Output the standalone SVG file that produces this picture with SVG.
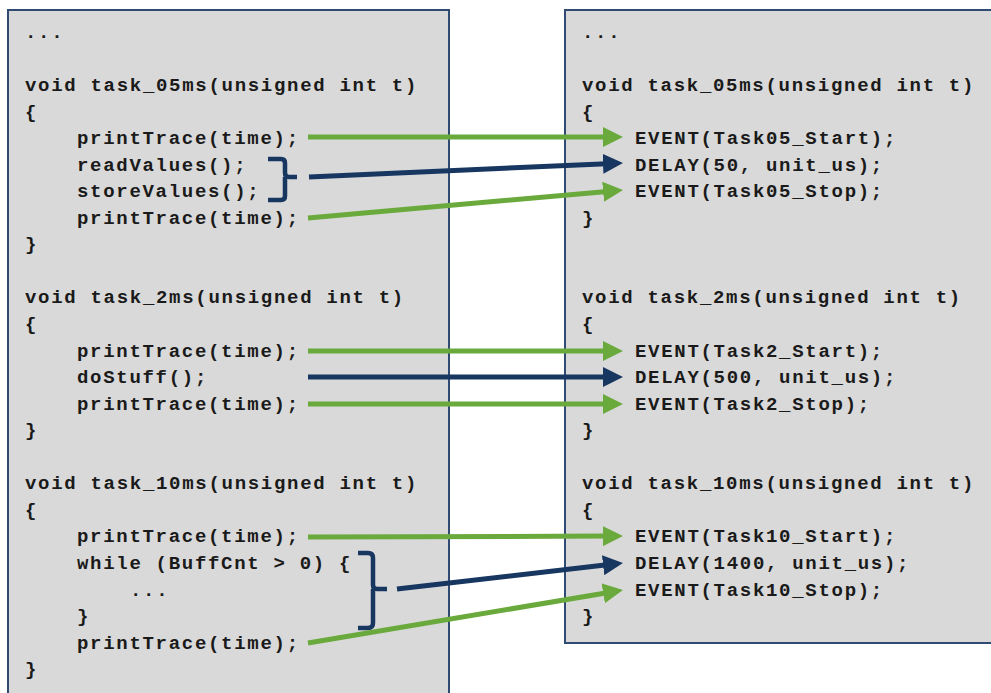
<svg xmlns="http://www.w3.org/2000/svg" width="991" height="693" viewBox="0 0 991 693">
<style>
.box{fill:#d9d9d9;stroke:#2f4b73;stroke-width:2}
.code{font-family:"Liberation Mono","Courier New",monospace;font-weight:bold;font-size:19px;letter-spacing:1.7px;fill:#1a1a1a}
.g{stroke:#6aaa3c;stroke-width:5;fill:none}
.b{stroke:#173660;stroke-width:5;fill:none}
.br{stroke:#173660;stroke-width:4.5;fill:none;stroke-linejoin:round}
</style>
<defs>
<marker id="ag" viewBox="0 0 10 10" refX="2" refY="5" markerWidth="4" markerHeight="4" orient="auto"><path d="M0,0 L10,5 L0,10 z" fill="#6aaa3c"/></marker>
<marker id="ab" viewBox="0 0 10 10" refX="2" refY="5" markerWidth="4" markerHeight="4" orient="auto"><path d="M0,0 L10,5 L0,10 z" fill="#173660"/></marker>
</defs>
<g id="left-code">
<rect class="box" x="8" y="10" width="441" height="700"/>
<text class="code" x="25" y="38">...</text>
<text class="code" x="25" y="91">void task_05ms(unsigned int t)</text>
<text class="code" x="25" y="117.6">{</text>
<text class="code" x="77" y="144.1">printTrace(time);</text>
<text class="code" x="77" y="170.7">readValues();</text>
<text class="code" x="77" y="197.2">storeValues();</text>
<text class="code" x="77" y="223.8">printTrace(time);</text>
<text class="code" x="25" y="250.3">}</text>
<text class="code" x="25" y="303.4">void task_2ms(unsigned int t)</text>
<text class="code" x="25" y="330">{</text>
<text class="code" x="77" y="356.5">printTrace(time);</text>
<text class="code" x="77" y="383.1">doStuff();</text>
<text class="code" x="77" y="409.6">printTrace(time);</text>
<text class="code" x="25" y="436.2">}</text>
<text class="code" x="25" y="489.3">void task_10ms(unsigned int t)</text>
<text class="code" x="25" y="515.9">{</text>
<text class="code" x="77" y="542.4">printTrace(time);</text>
<text class="code" x="77" y="569">while (BuffCnt &gt; 0) {</text>
<text class="code" x="130" y="595.5">...</text>
<text class="code" x="77" y="622.1">}</text>
<text class="code" x="77" y="648.6">printTrace(time);</text>
<text class="code" x="25" y="675.2">}</text>
</g>
<g id="right-code">
<rect class="box" x="565" y="10" width="440" height="633"/>
<text class="code" x="582" y="38">...</text>
<text class="code" x="582" y="91">void task_05ms(unsigned int t)</text>
<text class="code" x="582" y="117.6">{</text>
<text class="code" x="635" y="144.1">EVENT(Task05_Start);</text>
<text class="code" x="635" y="170.7">DELAY(50, unit_us);</text>
<text class="code" x="635" y="197.2">EVENT(Task05_Stop);</text>
<text class="code" x="582" y="223.8">}</text>
<text class="code" x="582" y="303.4">void task_2ms(unsigned int t)</text>
<text class="code" x="582" y="330">{</text>
<text class="code" x="635" y="356.5">EVENT(Task2_Start);</text>
<text class="code" x="635" y="383.1">DELAY(500, unit_us);</text>
<text class="code" x="635" y="409.6">EVENT(Task2_Stop);</text>
<text class="code" x="582" y="436.2">}</text>
<text class="code" x="582" y="489.3">void task_10ms(unsigned int t)</text>
<text class="code" x="582" y="515.9">{</text>
<text class="code" x="635" y="542.4">EVENT(Task10_Start);</text>
<text class="code" x="635" y="569">DELAY(1400, unit_us);</text>
<text class="code" x="635" y="595.5">EVENT(Task10_Stop);</text>
<text class="code" x="582" y="622.1">}</text>
</g>
<g id="brace-1">
<path class="br" d="M268,159 H281 Q285,159 285,163 V173 Q285,177 289,177 H297 M285,177 Q285,177 285,181 V196 Q285,200 281,200 H268"/>
</g>
<g id="brace-2">
<path class="br" d="M358,553 H368 Q373,553 373,558 V585 Q373,589 377,589 H387 M373,589 V623 Q373,628 368,628 H358"/>
</g>
<g id="connectors">
<line class="g" x1="308" y1="137" x2="607" y2="137" marker-end="url(#ag)"/>
<line class="b" x1="309" y1="177" x2="607" y2="163.7" marker-end="url(#ab)"/>
<line class="g" x1="308" y1="218" x2="607.1" y2="191.4" marker-end="url(#ag)"/>
<line class="g" x1="308" y1="351" x2="607" y2="351" marker-end="url(#ag)"/>
<line class="b" x1="308" y1="377" x2="607" y2="377" marker-end="url(#ab)"/>
<line class="g" x1="308" y1="404" x2="607" y2="404" marker-end="url(#ag)"/>
<line class="g" x1="308" y1="537" x2="607" y2="536.1" marker-end="url(#ag)"/>
<line class="b" x1="397" y1="589" x2="607.1" y2="564.8" marker-end="url(#ab)"/>
<line class="g" x1="308" y1="643" x2="607.2" y2="592.7" marker-end="url(#ag)"/>
</g>
</svg>
